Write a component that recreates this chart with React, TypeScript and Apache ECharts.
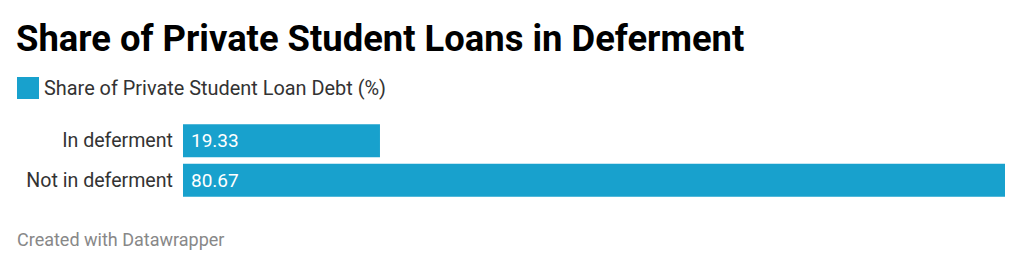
import React, { useEffect, useRef } from "react";
import * as echarts from "echarts";

const categories = ["In deferment", "Not in deferment"];
const shareValues = [19.33, 80.67];
const seriesName = "Share of Private Student Loan Debt (%)";
const titleText = "Share of Private Student Loans in Deferment";
const footerText = "Created with Datawrapper";

const FONT = "Roboto, 'Noto Sans', sans-serif";
const BAR_COLOR = "#18a1cd";

export default function App() {
  const ref = useRef<HTMLDivElement>(null);

  useEffect(() => {
    if (!ref.current) return;
    const chart = echarts.init(ref.current, undefined, { renderer: "svg" });
    chart.setOption({
      animation: false,
      backgroundColor: "#ffffff",
      title: {
        text: titleText,
        left: 11,
        top: 15,
        textStyle: {
          fontFamily: FONT,
          fontWeight: "bold",
          fontSize: 36.4,
          color: "#000000",
        },
      },
      legend: {
        data: [seriesName],
        left: 17,
        top: 77,
        padding: 0,
        icon: "rect",
        itemWidth: 22,
        itemHeight: 22,
        itemGap: 6,
        textStyle: { fontFamily: FONT, fontSize: 19.9, color: "#333333" },
      },
      grid: { left: 183, right: 19, top: 121, height: 79 },
      xAxis: {
        type: "value",
        min: 0,
        max: Math.max(...shareValues),
        show: false,
      },
      yAxis: {
        type: "category",
        data: categories,
        inverse: true,
        axisLine: { show: false },
        axisTick: { show: false },
        axisLabel: {
          fontFamily: FONT,
          fontSize: 19.6,
          color: "#333333",
          margin: 10,
        },
      },
      series: [
        {
          name: seriesName,
          type: "bar",
          data: shareValues,
          barWidth: 33,
          itemStyle: { color: BAR_COLOR },
          label: {
            show: true,
            position: "insideLeft",
            distance: 8,
            fontFamily: FONT,
            fontSize: 19,
            color: "#ffffff",
            formatter: (p: any) => p.value.toFixed(2),
          },
        },
      ],
      graphic: [
        {
          type: "text",
          left: 17,
          top: 230,
          style: {
            text: footerText,
            fontFamily: FONT,
            fontSize: 18,
            fill: "#888888",
          },
        },
      ],
    });
    return () => chart.dispose();
  }, []);

  return (
    <div
      ref={ref}
      style={{ position: "fixed", left: 0, top: 0, width: 1024, height: 268 }}
    />
  );
}
